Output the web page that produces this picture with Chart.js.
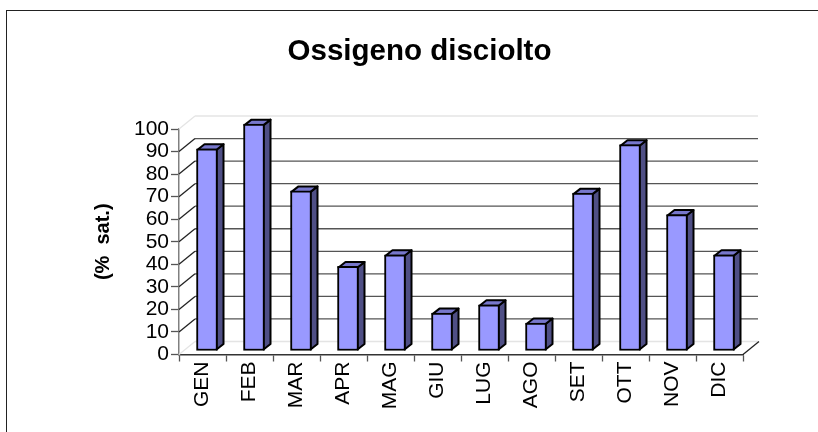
<!DOCTYPE html>
<html>
<head>
<meta charset="utf-8">
<script src="https://cdn.jsdelivr.net/npm/chart.js@4"></script>
<style>
  html, body { margin: 0; padding: 0; background: #fff; }
  #wrap { position: relative; width: 818px; height: 432px; overflow: hidden; }
  #frame { position: absolute; left: 6px; top: 10px; width: 830px; height: 440px; border: 1.5px solid #222; box-sizing: border-box; }
  canvas { position: absolute; left: 0; top: 0; }
</style>
</head>
<body>
<div id="wrap">
  <canvas id="o2Chart" width="818" height="432"></canvas>
  <div id="frame"></div>
</div>
<script>
const months = ['GEN', 'FEB', 'MAR', 'APR', 'MAG', 'GIU', 'LUG', 'AGO', 'SET', 'OTT', 'NOV', 'DIC'];
const saturation = [89.7, 100.6, 71, 37.5, 42.7, 16.8, 20.5, 12.4, 70, 91.5, 60.5, 42.7];
const chartTitle = 'Ossigeno disciolto';
const yTitle = '(%  sat.)';

const FONT = '"Liberation Sans", Arial, sans-serif';
const WALL_DX = 16, WALL_DY = 13;   // depth of the back wall
const BAR_DX = 4.5, BAR_DY = 3.5;   // bars stand a bit inside the floor
const SIDE_DX = 7, SIDE_DY = 5.5;   // depth of a bar

// back wall lines and the slanted ones going to the axis
const wallPlugin = {
  id: 'wall',
  beforeDatasetsDraw(chart) {
    const { ctx, scales: { x, y } } = chart;
    ctx.save();
    ctx.lineWidth = 1.3;
    y.ticks.forEach(t => {
      const py = y.getPixelForValue(t.value);
      const edge = t.value === 0 || t.value === 100;
      ctx.strokeStyle = edge ? '#e4e4e4' : '#555';
      ctx.beginPath();
      ctx.moveTo(x.left + WALL_DX, py - WALL_DY);
      ctx.lineTo(x.right + WALL_DX - 1, py - WALL_DY);
      ctx.stroke();
      ctx.strokeStyle = edge ? '#e4e4e4' : '#222';
      ctx.beginPath();
      ctx.moveTo(x.left, py);
      ctx.lineTo(x.left + WALL_DX, py - WALL_DY);
      ctx.stroke();
    });
    // floor corner on the right
    const floor = y.getPixelForValue(0);
    ctx.strokeStyle = '#222';
    ctx.beginPath();
    ctx.moveTo(x.right, floor);
    ctx.lineTo(x.right + WALL_DX, floor - WALL_DY);
    ctx.stroke();
    ctx.restore();
  }
};

function face(ctx, points, fill) {
  ctx.beginPath();
  points.forEach((p, i) => i ? ctx.lineTo(p[0], p[1]) : ctx.moveTo(p[0], p[1]));
  ctx.closePath();
  ctx.fillStyle = fill;
  ctx.fill();
  ctx.stroke();
}

// top and side of each bar, the library draws the front
const boxPlugin = {
  id: 'box',
  beforeDatasetDraw(chart, args) {
    const { ctx } = chart;
    ctx.save();
    ctx.translate(BAR_DX, -BAR_DY);
    ctx.lineWidth = 2;
    ctx.strokeStyle = '#000';
    ctx.lineJoin = 'round';
    args.meta.data.forEach(bar => {
      const l = bar.x - bar.width / 2 + 1, r = bar.x + bar.width / 2 - 1;
      const t = bar.y + 1, b = bar.base - 1;
      face(ctx, [[r, t], [r + SIDE_DX, t - SIDE_DY], [r + SIDE_DX, b - SIDE_DY], [r, b]], '#4f4f85');
      face(ctx, [[l, t], [l + SIDE_DX, t - SIDE_DY], [r + SIDE_DX, t - SIDE_DY], [r, t]], '#7777cc');
    });
  },
  afterDatasetDraw(chart) {
    chart.ctx.restore();
  }
};

new Chart(document.getElementById('o2Chart'), {
  type: 'bar',
  data: {
    labels: months,
    datasets: [{
      data: saturation,
      backgroundColor: '#9999ff',
      borderColor: '#000',
      borderWidth: 2,
      borderSkipped: false,
      barThickness: 21,
      clip: false
    }]
  },
  plugins: [wallPlugin, boxPlugin],
  options: {
    responsive: false,
    animation: false,
    layout: { padding: { top: 0, right: 0, bottom: 0, left: 21 } },
    plugins: {
      legend: { display: false },
      tooltip: { enabled: false },
      title: {
        display: true,
        text: chartTitle,
        color: '#000',
        font: { family: FONT, size: 29.5, weight: 'bold', lineHeight: 1 },
        padding: { top: 37.5, bottom: 62 }
      }
    },
    scales: {
      x: {
        afterFit(scale) { scale.height = 77.5; },
        grid: { drawOnChartArea: false, tickLength: 7, tickColor: '#555', tickWidth: 1.3 },
        border: { color: '#333', width: 1.5 },
        ticks: {
          color: '#000',
          font: { family: FONT, size: 21 },
          minRotation: 90,
          maxRotation: 90,
          padding: 0,
          autoSkip: false
        }
      },
      y: {
        min: 0,
        max: 100,
        afterFit(scale) { scale.width = 158; },
        title: {
          display: true,
          text: yTitle,
          color: '#000',
          font: { family: FONT, size: 20, weight: 'bold' },
          padding: { top: 70, bottom: 0 }
        },
        grid: { drawOnChartArea: false, tickLength: 8, tickColor: '#555', tickWidth: 1.3 },
        border: { color: '#808080', width: 1.5 },
        ticks: {
          stepSize: 10,
          autoSkip: false,
          color: '#000',
          font: { family: FONT, size: 21 },
          padding: 2
        }
      },
      // empty axis that only keeps the space right of the plot
      spacer: {
        position: 'right',
        afterFit(scale) { scale.width = 75; },
        grid: { display: false },
        border: { display: false },
        ticks: { display: false }
      }
    }
  }
});
</script>
</body>
</html>
